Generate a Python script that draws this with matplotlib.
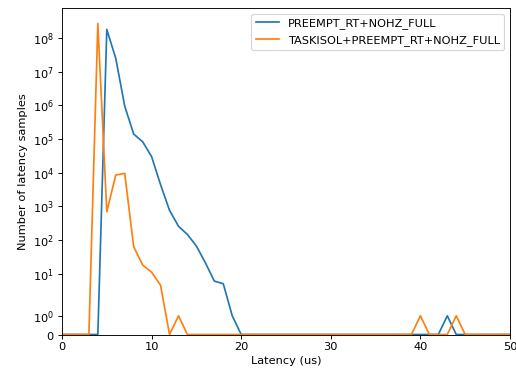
import numpy as np
import matplotlib
matplotlib.use("Agg")
import matplotlib.pyplot as plt

# latency bins in us
latency = np.arange(0, 51)

# PREEMPT_RT+NOHZ_FULL, counts per bin (nonzero bins only)
rt_bins = [5, 6, 7, 8, 9, 10, 11, 12, 13, 14, 15, 16, 17, 18, 19, 43]
rt_counts = [1.8e8, 2.5e7, 9.5e5, 1.4e5, 8.3e4, 3.0e4, 4.4e3, 760, 255, 145,
             66, 21, 6, 5, 1, 1]

# TASKISOL+PREEMPT_RT+NOHZ_FULL
iso_bins = [4, 5, 6, 7, 8, 9, 10, 11, 13, 40, 44]
iso_counts = [2.7e8, 690, 8.5e3, 9.5e3, 63, 18, 11, 4.5, 1, 1, 1]

rt = np.zeros(len(latency))
rt[rt_bins] = rt_counts
iso = np.zeros(len(latency))
iso[iso_bins] = iso_counts

dpi = 82
fig, ax = plt.subplots(figsize=(516/dpi, 371/dpi), dpi=dpi)
fig.subplots_adjust(left=62/516, right=510/516, bottom=36.5/371, top=363/371)

ax.plot(latency, rt, label='PREEMPT_RT+NOHZ_FULL')
ax.plot(latency, iso, label='TASKISOL+PREEMPT_RT+NOHZ_FULL')
ax.set_yscale('symlog')
ax.set_xlim(0, 50)
ax.set_ylim(bottom=0)
ax.set_xlabel('Latency (us)', labelpad=3)
ax.set_ylabel('Number of latency samples')
ax.legend(loc='upper right')

fig.savefig('out.png', dpi=dpi)
